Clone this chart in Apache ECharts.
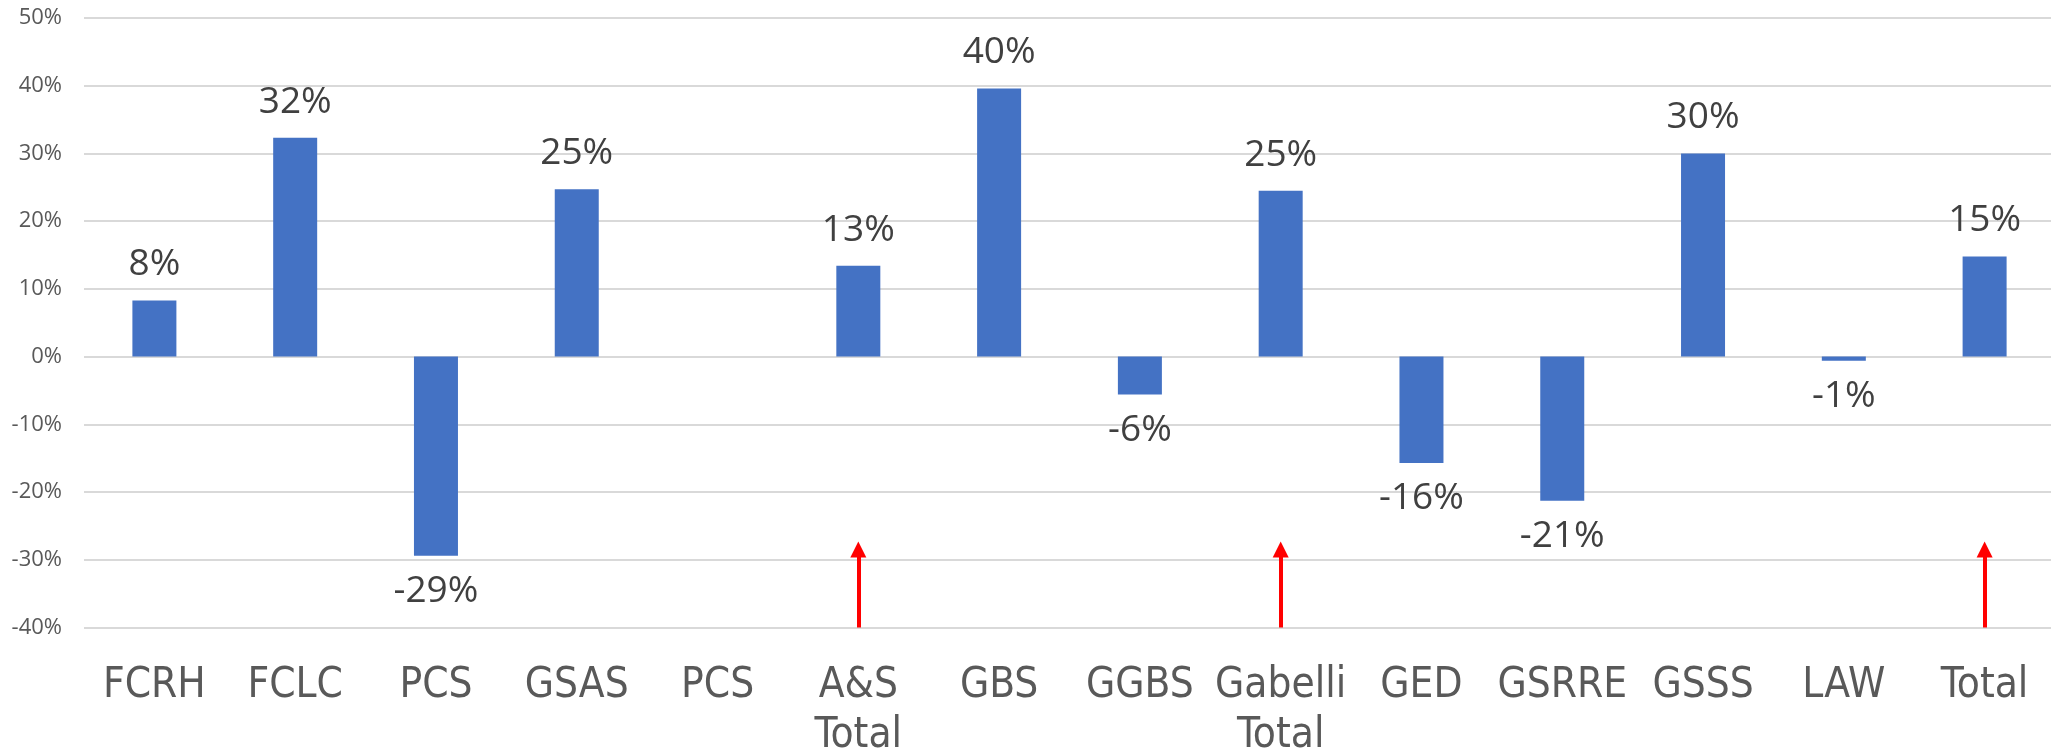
<!DOCTYPE html>
<html>
<head>
<meta charset="utf-8">
<title>Change by unit</title>
<script src="https://cdn.jsdelivr.net/npm/echarts@6/dist/echarts.min.js"></script>
<style>
  html, body { margin: 0; padding: 0; background: #ffffff; }
  #chart { width: 2051px; height: 751px; }
</style>
</head>
<body>
<div id="chart"></div>
<script>
// Units along the x axis
const categories = ['FCRH', 'FCLC', 'PCS', 'GSAS', 'PCS', 'A&S\nTotal', 'GBS', 'GGBS',
  'Gabelli\nTotal', 'GED', 'GSRRE', 'GSSS', 'LAW', 'Total'];
// Change per unit (fraction); the second PCS has no value
const changes = [0.083, 0.323, -0.294, 0.247, null, 0.134, 0.396, -0.056,
  0.245, -0.157, -0.213, 0.300, -0.006, 0.148];
// Value axis range and step
const yMin = -0.4;
const yMax = 0.5;
const yStep = 0.1;
// Red pointer arrows under the subtotal columns
const arrowCats = ['A&S\nTotal', 'Gabelli\nTotal', 'Total'];
const arrowFrom = [-0.40, -0.40, -0.40];
const arrowTo = [-0.285, -0.285, -0.285];

const pct = v => Math.round(v * 100) + '%';

const barData = changes.map(v => v === null ? null : {
  value: v,
  label: { position: v < 0 ? 'bottom' : 'top' }
});

const arrowLines = arrowCats.map((c, i) => {
  const idx = categories.indexOf(c);
  return [{ coord: [idx, arrowFrom[i]] }, { coord: [idx, arrowTo[i]] }];
});

const chart = echarts.init(document.getElementById('chart'), null, { renderer: 'canvas' });
chart.setOption({
  animation: false,
  backgroundColor: '#ffffff',
  grid: {
    left: 84, top: 18, width: 1971, bottom: 123.5,
    containLabel: false,
    outerBoundsMode: 'none'
  },
  xAxis: {
    type: 'category',
    data: categories,
    axisLine: { show: false },
    axisTick: { show: false },
    axisLabel: {
      interval: 0,
      margin: 34,
      color: '#595959',
      fontFamily: '"Liberation Sans Narrow", "DejaVu Sans Condensed", "Open Sans", sans-serif',
      fontSize: 42,
      lineHeight: 50
    }
  },
  yAxis: {
    type: 'value',
    min: yMin,
    max: yMax,
    interval: yStep,
    axisLine: { show: false },
    axisTick: { show: false },
    splitLine: { lineStyle: { color: '#d9d9d9', width: 2 } },
    axisLabel: {
      margin: 22,
      color: '#595959',
      fontFamily: '"Open Sans", sans-serif',
      fontSize: 22,
      formatter: v => pct(v)
    }
  },
  series: [{
    type: 'bar',
    data: barData,
    barWidth: 44,
    itemStyle: { color: '#4472C4' },
    label: {
      show: true,
      distance: 17,
      color: '#404040',
      fontFamily: '"Open Sans", sans-serif',
      fontSize: 37,
      formatter: p => pct(p.value)
    },
    markLine: {
      silent: true,
      symbol: ['none', 'triangle'],
      symbolSize: [16, 16],
      label: { show: false },
      lineStyle: { color: '#ff0000', width: 4, type: 'solid' },
      data: arrowLines
    }
  }]
});
</script>
</body>
</html>
